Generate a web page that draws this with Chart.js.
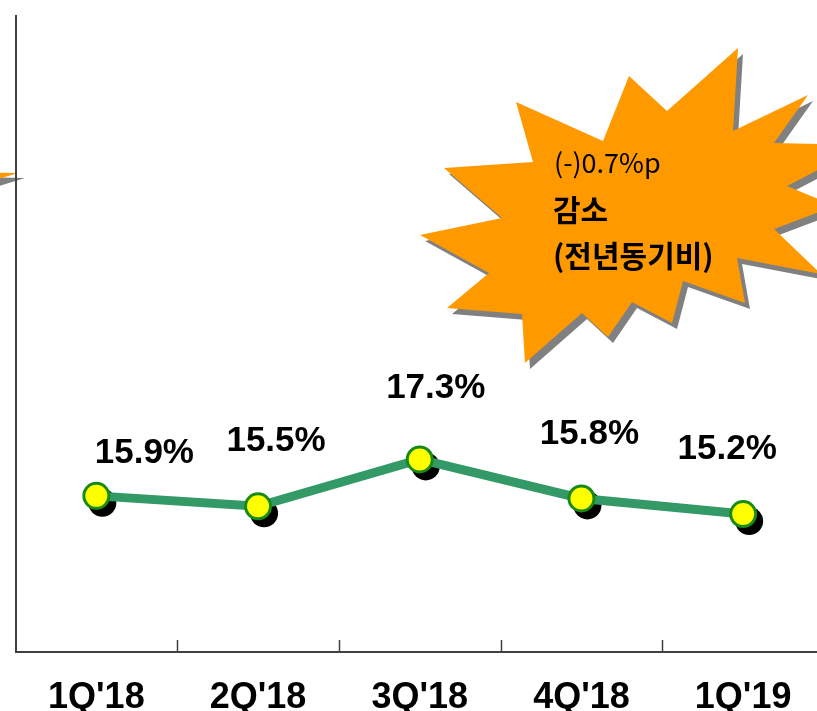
<!DOCTYPE html>
<html>
<head>
<meta charset="utf-8">
<script src="https://cdn.jsdelivr.net/npm/chart.js@4"></script>
<style>
  html, body { margin: 0; padding: 0; background: #fff; overflow: hidden; }
  #wrap { position: relative; width: 840px; height: 720px; }
</style>
</head>
<body>
<div id="wrap"><canvas id="ratioChart"></canvas></div>
<script>
// Quarterly ratio data
const quarters = ["1Q'18", "2Q'18", "3Q'18", "4Q'18", "1Q'19"];
const ratioValues = [15.9, 15.5, 17.3, 15.8, 15.2];
const valueLabels = ['15.9%', '15.5%', '17.3%', '15.8%', '15.2%'];

// callout text
const calloutLines = ['(-)0.7%p', '감소', '(전년동기비)'];

// where each value label sits relative to its point (px)
const labelShift = [[48, -43], [18, -65], [16, -71], [8, -64], [-16, -65]];

// starburst outline (px)
const burstShape = [
    [738, 48], [733, 131], [808, 95], [774, 143], [866, 145], [787, 186],
    [835, 206], [774, 229], [821, 274], [737, 258], [745, 303], [683, 281],
    [672, 323], [632, 302], [608, 337], [582, 313], [525, 363], [522, 314],
    [447, 308], [489, 273], [420, 235], [502, 218], [444, 168], [533, 162],
    [516, 102], [603, 141], [629, 76], [667, 111]
];
// tip of another burst poking in from the left edge
const leftTip = [[-40, 172], [18, 173], [-40, 191]];

const fontLatin = "'Liberation Sans', Arial, sans-serif";
const fontKr = "'Noto Sans CJK KR', 'Noto Sans', sans-serif";

function fillShape(ctx, pts, dx, dy, color) {
    ctx.beginPath();
    pts.forEach((p, i) => {
        if (i === 0) ctx.moveTo(p[0] + dx, p[1] + dy);
        else ctx.lineTo(p[0] + dx, p[1] + dy);
    });
    ctx.closePath();
    ctx.fillStyle = color;
    ctx.fill();
}

const decorPlugin = {
    id: 'decor',
    beforeDraw(chart) {
        const ctx = chart.ctx;
        ctx.save();
        fillShape(ctx, leftTip, 7, 5, '#808080');
        fillShape(ctx, leftTip, 0, 0, '#FF9900');
        ctx.restore();
    },
    beforeDatasetsDraw(chart) {
        // marker shadows, under the line
        const ctx = chart.ctx;
        const meta = chart.getDatasetMeta(0);
        ctx.save();
        ctx.fillStyle = '#000';
        meta.data.forEach(pt => {
            ctx.beginPath();
            ctx.arc(pt.x + 6, pt.y + 7, 14, 0, Math.PI * 2);
            ctx.fill();
        });
        ctx.restore();
    },
    afterDatasetsDraw(chart) {
        const ctx = chart.ctx;
        const meta = chart.getDatasetMeta(0);
        const area = chart.chartArea;
        const x = chart.scales.x;
        ctx.save();

        // small tick marks between categories, pointing up
        ctx.strokeStyle = '#404040';
        ctx.lineWidth = 1.5;
        for (let i = 1; i < quarters.length; i++) {
            const px = Math.round((x.getPixelForValue(i - 1) + x.getPixelForValue(i)) / 2) + 0.5;
            ctx.beginPath();
            ctx.moveTo(px, area.bottom);
            ctx.lineTo(px, area.bottom - 12);
            ctx.stroke();
        }

        // value labels
        ctx.fillStyle = '#000';
        ctx.font = 'bold 35px ' + fontLatin;
        ctx.textAlign = 'center';
        ctx.textBaseline = 'middle';
        meta.data.forEach((pt, i) => {
            ctx.fillText(valueLabels[i], pt.x + labelShift[i][0], pt.y + labelShift[i][1]);
        });

        // callout burst
        fillShape(ctx, burstShape, 5, 6, '#808080');
        fillShape(ctx, burstShape, 0, 0, '#FF9900');
        ctx.fillStyle = '#000';
        ctx.textAlign = 'left';
        ctx.font = '27px ' + fontKr;
        ctx.fillText(calloutLines[0], 554, 163);
        ctx.font = 'bold 30px ' + fontKr;
        ctx.fillText(calloutLines[1], 553, 210);
        ctx.fillText(calloutLines[2], 553, 256);
        ctx.restore();
    }
};

new Chart(document.getElementById('ratioChart'), {
    type: 'line',
    data: {
        labels: quarters,
        datasets: [{
            data: ratioValues,
            borderColor: '#339966',
            borderWidth: 9,
            pointRadius: 12.5,
            pointHoverRadius: 12.5,
            pointBorderWidth: 3,
            pointBackgroundColor: '#FFFF00',
            pointBorderColor: '#178A17',
            tension: 0,
            fill: false
        }]
    },
    options: {
        responsive: true,
        maintainAspectRatio: false,
        animation: false,
        layout: { padding: { left: 14, top: 11, right: 16, bottom: 0 } },
        plugins: { legend: { display: false }, tooltip: { enabled: false } },
        scales: {
            x: {
                offset: true,
                grid: { display: false, drawTicks: false, tickLength: 0 },
                border: { display: true, color: '#404040', width: 2 },
                ticks: {
                    color: '#000',
                    padding: 24,
                    maxRotation: 0,
                    autoSkip: false,
                    font: { family: fontLatin, weight: 'bold', size: 36 }
                },
                afterFit(scale) { scale.height = 68; }
            },
            y: {
                min: 9.9,
                max: 34.36,
                grid: { display: false, drawTicks: false, tickLength: 0 },
                border: { display: true, color: '#404040', width: 2 },
                ticks: { display: false },
                afterFit(scale) { scale.width = 0; }
            }
        }
    },
    plugins: [decorPlugin]
});
</script>
</body>
</html>
